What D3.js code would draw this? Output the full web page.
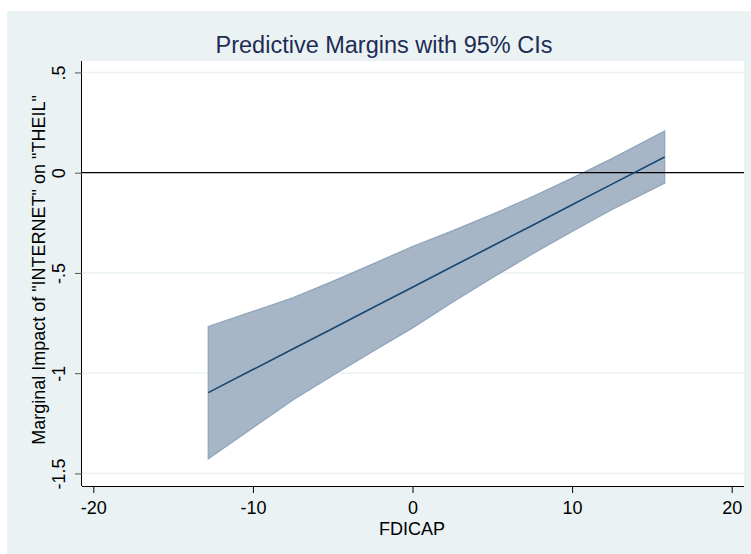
<!DOCTYPE html>
<html>
<head>
<meta charset="utf-8">
<script src="https://cdn.jsdelivr.net/npm/d3@7"></script>
<style>
html,body{margin:0;padding:0;background:#fff;}
svg{display:block;}
text{font-family:"Liberation Sans",Arial,sans-serif;}
</style>
</head>
<body>
<svg id="chart" width="751" height="554"></svg>
<script>
// Data
const fdicap = [-12.8, -10, -7.5, -5, -2.5, 0, 2.5, 5, 7.5, 10, 12.5, 15.8];
const margin = [-1.097, -0.982, -0.879, -0.777, -0.674, -0.571, -0.468, -0.366, -0.263, -0.160, -0.057, 0.078];
const upper  = [-0.767, -0.692, -0.624, -0.542, -0.456, -0.368, -0.290, -0.208, -0.120, -0.027, 0.070, 0.208];
const lower  = [-1.427, -1.272, -1.134, -1.012, -0.892, -0.774, -0.646, -0.524, -0.406, -0.293, -0.184, -0.052];
const xTicks = [-20, -10, 0, 10, 20];
const xTickLabels = ["-20", "-10", "0", "10", "20"];
const yTicks = [0.5, 0, -0.5, -1, -1.5];
const yTickLabels = [".5", "0", "-.5", "-1", "-1.5"];
const titleText = "Predictive Margins with 95% CIs";
const xTitle = "FDICAP";
const yTitle = "Marginal Impact of \"INTERNET\" on \"THEIL\"";

const data = fdicap.map((x, i) => ({x, m: margin[i], lo: lower[i], hi: upper[i]}));

const svg = d3.select("#chart");
const W = 751, H = 554;
const plot = {left: 82, right: 744, top: 61, bottom: 486};
const FONT = "'Liberation Sans', Arial, sans-serif";

// outer background
svg.append("rect").attr("x", 7).attr("y", 11).attr("width", W - 7).attr("height", H - 11).attr("fill", "#eaf2f3");
// plot region
svg.append("rect").attr("x", plot.left).attr("y", plot.top)
  .attr("width", plot.right - plot.left).attr("height", plot.bottom - plot.top).attr("fill", "#ffffff");

const x = d3.scaleLinear().domain([-20.71, 20.77]).range([plot.left, plot.right]);
const y = d3.scaleLinear().domain([-1.5626, 0.557]).range([plot.bottom, plot.top]);

// grid lines
svg.append("g").selectAll("line").data(yTicks.filter(v => v !== 0)).join("line")
  .attr("x1", plot.left).attr("x2", plot.right)
  .attr("y1", d => y(d)).attr("y2", d => y(d))
  .attr("stroke", "#eaf2f3").attr("stroke-width", 1.5);

// CI band
const area = d3.area().x(d => x(d.x)).y0(d => y(d.lo)).y1(d => y(d.hi));
svg.append("path").datum(data).attr("d", area)
  .attr("fill", "#a6b6c7").attr("stroke", "#8ea3b9").attr("stroke-width", 1.2);

// zero line
svg.append("line").attr("x1", plot.left).attr("x2", plot.right)
  .attr("y1", y(0)).attr("y2", y(0)).attr("stroke", "#000").attr("stroke-width", 1.3);

// margin line
const line = d3.line().x(d => x(d.x)).y(d => y(d.m));
svg.append("path").datum(data).attr("d", line)
  .attr("fill", "none").attr("stroke", "#1a476f").attr("stroke-width", 1.6);

// axes
const xAxis = d3.axisBottom(x).tickValues(xTicks).tickSize(7).tickPadding(3)
  .tickFormat((d, i) => xTickLabels[i]);
const gx = svg.append("g").attr("transform", `translate(0,${plot.bottom})`).call(xAxis);
gx.select(".domain").attr("d", `M${plot.left},0.5H${plot.right}`).attr("stroke", "#000");
gx.selectAll(".tick line").attr("stroke", "#000");
gx.selectAll(".tick text").attr("font-size", 18).attr("fill", "#000")
  .attr("font-family", FONT).attr("dy", null).attr("y", 28);

const yAxis = d3.axisLeft(y).tickValues(yTicks).tickSize(7).tickPadding(3)
  .tickFormat((d, i) => yTickLabels[i]);
const gy = svg.append("g").attr("transform", `translate(${plot.left},0)`).call(yAxis);
gy.select(".domain").attr("d", `M-0.5,${plot.top}V${plot.bottom}`).attr("stroke", "#000");
gy.selectAll(".tick line").attr("stroke", "#555");
gy.selectAll(".tick text")
  .attr("font-size", 18).attr("fill", "#000")
  .attr("font-family", FONT)
  .attr("x", null).attr("dy", null)
  .attr("text-anchor", "middle")
  .attr("transform", "translate(-17,0) rotate(-90)");

// titles
svg.append("text").attr("x", 384).attr("y", 53).attr("text-anchor", "middle")
  .attr("font-size", 23.5).attr("fill", "#1e2d53").text(titleText);
svg.append("text").attr("x", 412).attr("y", 535).attr("text-anchor", "middle")
  .attr("font-size", 18).attr("fill", "#000").text(xTitle);
svg.append("text").attr("transform", `translate(45,270) rotate(-90)`)
  .attr("text-anchor", "middle").attr("font-size", 18).attr("fill", "#000").text(yTitle);
</script>
</body>
</html>
